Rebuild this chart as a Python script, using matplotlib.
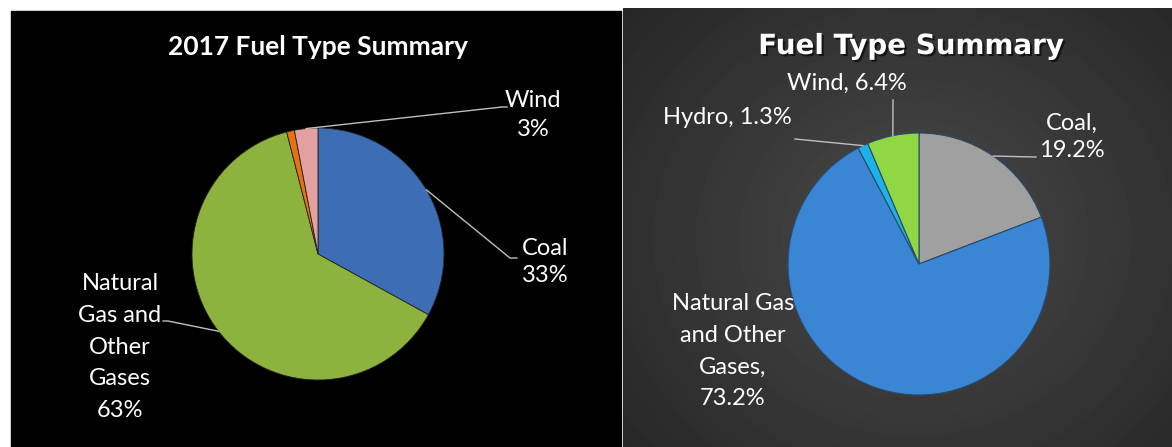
import numpy as np
import matplotlib
matplotlib.use('Agg')
import matplotlib.pyplot as plt
import matplotlib.patheffects as pe
from matplotlib.patches import Rectangle

# left chart (2017)
left_names = ['Coal', 'Natural\nGas and\nOther\nGases', 'Hydro', 'Wind']
left_values = [33, 63, 1, 3]
left_colors = ['#3d6db5', '#8db33e', '#e8710f', '#e3a0a0']

# right chart
right_names = ['Coal,', 'Natural Gas\nand Other\nGases,', 'Hydro,', 'Wind,']
right_values = [19.2, 73.2, 1.3, 6.4]
right_colors = ['#a0a0a0', '#3a86d4', '#1cb2e8', '#8fd743']

W, H = 1172, 447


def Y(v):
    # pixel row from top -> data y
    return H - v


fig = plt.figure(figsize=(W / 100, H / 100), dpi=100, facecolor='white')
ax = fig.add_axes([0, 0, 1, 1])

# panel backgrounds
ax.add_patch(Rectangle((11, 0), 610, Y(11), color='black', zorder=0))
yy, xx = np.mgrid[0:439, 0:549]
d = np.sqrt(((xx - 290) / 330.0) ** 2 + ((yy - 230) / 300.0) ** 2)
bg = 0.29 - 0.12 * np.clip(d, 0, 1.3)
ax.imshow(bg, cmap='gray', vmin=0, vmax=1, extent=(623, W, 0, Y(8)),
          origin='upper', zorder=0, interpolation='bilinear')

font = ['Lato', 'DejaVu Sans']
fs = 17

# left pie
lc, lr = (318, Y(254)), 126
lw, _ = ax.pie(left_values, colors=left_colors, startangle=90, counterclock=False,
               center=lc, radius=lr, frame=True,
               wedgeprops=dict(edgecolor='#222222', linewidth=0.6))

# right pie
rc, rr = (919, Y(264)), 131
rw, _ = ax.pie(right_values, colors=right_colors, startangle=90, counterclock=False,
               center=rc, radius=rr, frame=True,
               wedgeprops=dict(edgecolor='#2a4a6a', linewidth=0.8))


def mid(w, c, r):
    a = np.deg2rad((w.theta1 + w.theta2) / 2)
    return c[0] + r * np.cos(a), c[1] + r * np.sin(a)


def leader(w, c, r, pts):
    x0, y0 = mid(w, c, r)
    xs = [x0] + [p[0] for p in pts]
    ys = [y0] + [Y(p[1]) for p in pts]
    ax.plot(xs, ys, color='#bfbfbf', lw=1, zorder=3)


# left labels
ax.text(318, Y(47), '2017 Fuel Type Summary', ha='center', va='center',
        color='white', fontsize=19, fontweight='bold', family=font)
ax.text(533, Y(115), f'{left_names[3]}\n{left_values[3]}%', ha='center', va='center',
        color='white', fontsize=fs, family=font, linespacing=1.49)
ax.text(545, Y(262), f'{left_names[0]}\n{left_values[0]}%', ha='center', va='center',
        color='white', fontsize=fs, family=font, linespacing=1.39)
ax.text(120, Y(347), f'{left_names[1]}\n{left_values[1]}%', ha='center', va='center',
        color='white', fontsize=fs, family=font, linespacing=1.64)
leader(lw[3], lc, lr, [(502, 107), (507, 107)])
leader(lw[0], lc, lr, [(510, 258), (517, 258)])
leader(lw[1], lc, lr, [(168, 321), (163, 321)])

# right labels
shadow = [pe.withSimplePatchShadow(offset=(1.5, -1.5), shadow_rgbFace='black', alpha=0.6)]
ax.text(911, Y(46), 'Fuel Type Summary', ha='center', va='center', color='white',
        fontsize=20, fontweight='bold', family=['DejaVu Sans'], path_effects=shadow)
ax.text(847, Y(83), f'{right_names[3]} {right_values[3]}%', ha='center', va='center',
        color='white', fontsize=fs, family=font)
ax.text(727, Y(117), f'{right_names[2]} {right_values[2]}%', ha='center', va='center',
        color='white', fontsize=fs, family=font)
ax.text(1072, Y(137), f'{right_names[0]}\n{right_values[0]}%', ha='center', va='center',
        color='white', fontsize=fs, family=font, linespacing=1.39)
ax.text(733, Y(351), f'{right_names[1]}\n{right_values[1]}%', ha='center', va='center',
        color='white', fontsize=fs, family=font, linespacing=1.64)
leader(rw[3], rc, rr, [(893, 100)])
leader(rw[2], rc, rr, [(795, 139)])
leader(rw[0], rc, rr, [(1036, 157)])

ax.set_xlim(0, W)
ax.set_ylim(0, H)
ax.set_aspect('auto')
ax.axis('off')

fig.savefig('out.png', dpi=100, facecolor='white')
